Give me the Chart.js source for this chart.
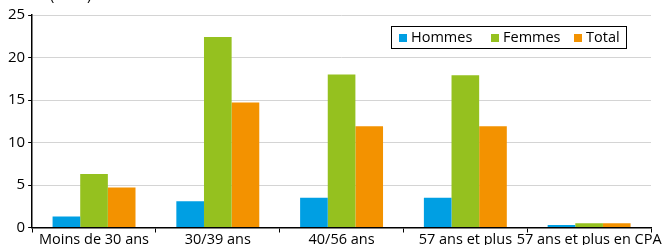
<!DOCTYPE html>
<html>
<head>
<meta charset="utf-8">
<script src="https://cdn.jsdelivr.net/npm/chart.js@4/dist/chart.umd.min.js"></script>
<style>
  html, body { margin: 0; padding: 0; background: #fff; }
  #wrap { width: 666px; height: 245px; }
</style>
</head>
<body>
<div id="wrap"><canvas id="graph"></canvas></div>
<script>
// Données
const categories = ['Moins de 30 ans', '30/39 ans', '40/56 ans', '57 ans et plus', '57 ans et plus en CPA'];
const hommes = [1.3, 3.1, 3.5, 3.5, 0.3];
const femmes = [6.3, 22.4, 18.0, 17.9, 0.5];
const total = [4.7, 14.7, 11.9, 11.9, 0.5];
const yTicks = [0, 5, 10, 15, 20, 25];
const unite = '(en %)';

const police = "'Open Sans', sans-serif";

// légende dessinée dans la zone du graphique
const legendeInterne = {
    id: 'legendeInterne',
    afterDraw(chart) {
        const ctx = chart.ctx;
        const area = chart.chartArea;
        const x0 = area.right - 260, y0 = area.top + 11;
        const w = 235, h = 22;
        const decalages = [8, 100, 183];
        ctx.save();
        ctx.fillStyle = '#fff';
        ctx.fillRect(x0, y0, w, h);
        ctx.strokeStyle = '#000';
        ctx.lineWidth = 1;
        ctx.strokeRect(x0 + 0.5, y0 + 0.5, w, h);
        ctx.font = '14.5px ' + police;
        ctx.textBaseline = 'middle';
        chart.data.datasets.forEach((ds, i) => {
            const x = x0 + decalages[i];
            ctx.fillStyle = ds.backgroundColor;
            ctx.fillRect(x, y0 + 8, 8, 8);
            ctx.fillStyle = '#000';
            ctx.fillText(ds.label, x + 12, y0 + h / 2 + 1);
        });
        // unité, coupée en haut comme dans l'original
        ctx.textBaseline = 'alphabetic';
        ctx.fillText(unite, 50, 0);
        ctx.restore();
    }
};

const ctx = document.getElementById('graph').getContext('2d');
new Chart(ctx, {
    type: 'bar',
    data: {
        labels: categories,
        datasets: [
            { label: 'Hommes', data: hommes, backgroundColor: '#009fe3' },
            { label: 'Femmes', data: femmes, backgroundColor: '#95c11f' },
            { label: 'Total', data: total, backgroundColor: '#f39200' }
        ]
    },
    options: {
        responsive: true,
        maintainAspectRatio: false,
        animation: false,
        layout: { padding: { top: 15, right: 15, left: 5, bottom: -2 } },
        datasets: { bar: { categoryPercentage: 0.67, barPercentage: 1 } },
        scales: {
            x: {
                grid: { offset: true, drawOnChartArea: false, drawTicks: true, tickLength: 5, tickColor: '#000' },
                border: { color: '#000', width: 1.5 },
                ticks: { color: '#000', font: { family: police, size: 14.5, lineHeight: 1 }, padding: 0, maxRotation: 0, autoSkip: false }
            },
            y: {
                min: 0,
                max: 25,
                afterBuildTicks(axis) { axis.ticks = yTicks.map(v => ({ value: v })); },
                grid: { color: '#d4d4d4', lineWidth: 1, tickLength: 4, tickColor: '#000' },
                border: { color: '#000', width: 1.5 },
                ticks: { color: '#000', font: { family: police, size: 15 }, padding: 3 }
            }
        },
        plugins: {
            legend: { display: false },
            tooltip: { enabled: false }
        }
    },
    plugins: [legendeInterne]
});
</script>
</body>
</html>
